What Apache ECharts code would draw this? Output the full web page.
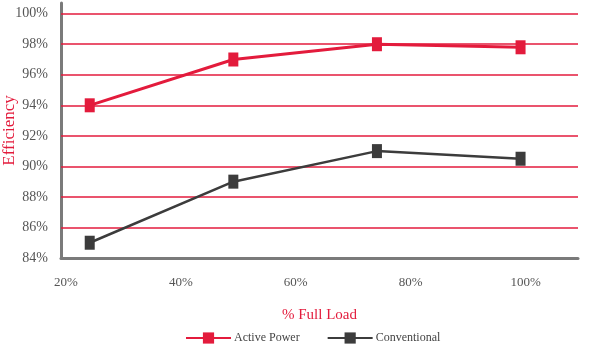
<!DOCTYPE html>
<html>
<head>
<meta charset="utf-8">
<script src="https://cdn.jsdelivr.net/npm/echarts@6/dist/echarts.min.js"></script>
<style>html,body{margin:0;padding:0;background:#fff;}#c{width:605px;height:351px;}</style>
</head>
<body>
<div id="c"></div>
<script>
var loadPct = [25, 50, 75, 100];
var activePower = [94, 97, 98, 97.8];
var conventional = [85, 89, 91, 90.5];
var gridValues = [86, 88, 90, 92, 94, 96, 98, 100];
var seriesNames = ['Active Power', 'Conventional'];

var RED = '#e31b3c';
var DARK = '#3c3c3c';
var LABEL_FONT = '"Liberation Serif", "DejaVu Serif", serif';

function pairs(xs, ys) { return xs.map(function (x, i) { return [x, ys[i]]; }); }

var chart = echarts.init(document.getElementById('c'));
chart.setOption({
  animation: false,
  backgroundColor: '#fff',
  grid: { left: 61, right: 27, top: 3, bottom: 93, containLabel: false, outerBoundsMode: 'none' },
  legend: {
    data: seriesNames,
    bottom: 2,
    left: 180,
    itemWidth: 45,
    itemHeight: 14,
    itemGap: 27,
    textStyle: { color: '#444', fontSize: 12, fontFamily: LABEL_FONT, padding: [0, 0, 0, -2] }
  },
  xAxis: {
    type: 'value',
    min: 20, max: 110, interval: 20,
    name: '% Full Load',
    nameLocation: 'middle',
    nameGap: 50,
    nameMoveOverlap: false,
    nameTextStyle: { color: RED, fontSize: 15, fontFamily: LABEL_FONT },
    axisLine: { show: true, lineStyle: { color: '#7a7a7a', width: 3 } },
    axisTick: { show: false },
    splitLine: { show: false },
    axisLabel: {
      showMaxLabel: false,
      color: '#555', fontSize: 13, fontFamily: LABEL_FONT, margin: 18,
      padding: [0, 0, 0, 10],
      formatter: function (v) { return v + '%'; }
    }
  },
  yAxis: {
    type: 'value',
    min: 84, max: 100.7, interval: 2,
    name: 'Efficiency',
    nameLocation: 'middle',
    nameGap: 43,
    nameMoveOverlap: false,
    nameRotate: 90,
    nameTextStyle: { color: RED, fontSize: 17, fontFamily: LABEL_FONT },
    axisLine: { show: true, lineStyle: { color: '#7a7a7a', width: 3 } },
    axisTick: { show: false },
    splitLine: { show: false },
    axisLabel: {
      showMaxLabel: false,
      color: '#555', fontSize: 14, fontFamily: LABEL_FONT, margin: 13,
      formatter: function (v) { return v + '%'; }
    }
  },
  series: [
    {
      name: seriesNames[0],
      type: 'line',
      data: pairs(loadPct, activePower),
      symbol: 'rect',
      symbolSize: [10, 14],
      itemStyle: { color: RED },
      lineStyle: { color: RED, width: 3 },
      z: 3,
      markLine: {
        silent: true,
        z: 1,
        symbol: 'none',
        label: { show: false },
        lineStyle: { color: RED, width: 1.5, type: 'solid' },
        data: gridValues.map(function (v) { return { yAxis: v }; })
      }
    },
    {
      name: seriesNames[1],
      type: 'line',
      data: pairs(loadPct, conventional),
      symbol: 'rect',
      symbolSize: [10, 14],
      itemStyle: { color: DARK },
      lineStyle: { color: DARK, width: 2.5 },
      z: 3
    }
  ]
});
</script>
</body>
</html>
